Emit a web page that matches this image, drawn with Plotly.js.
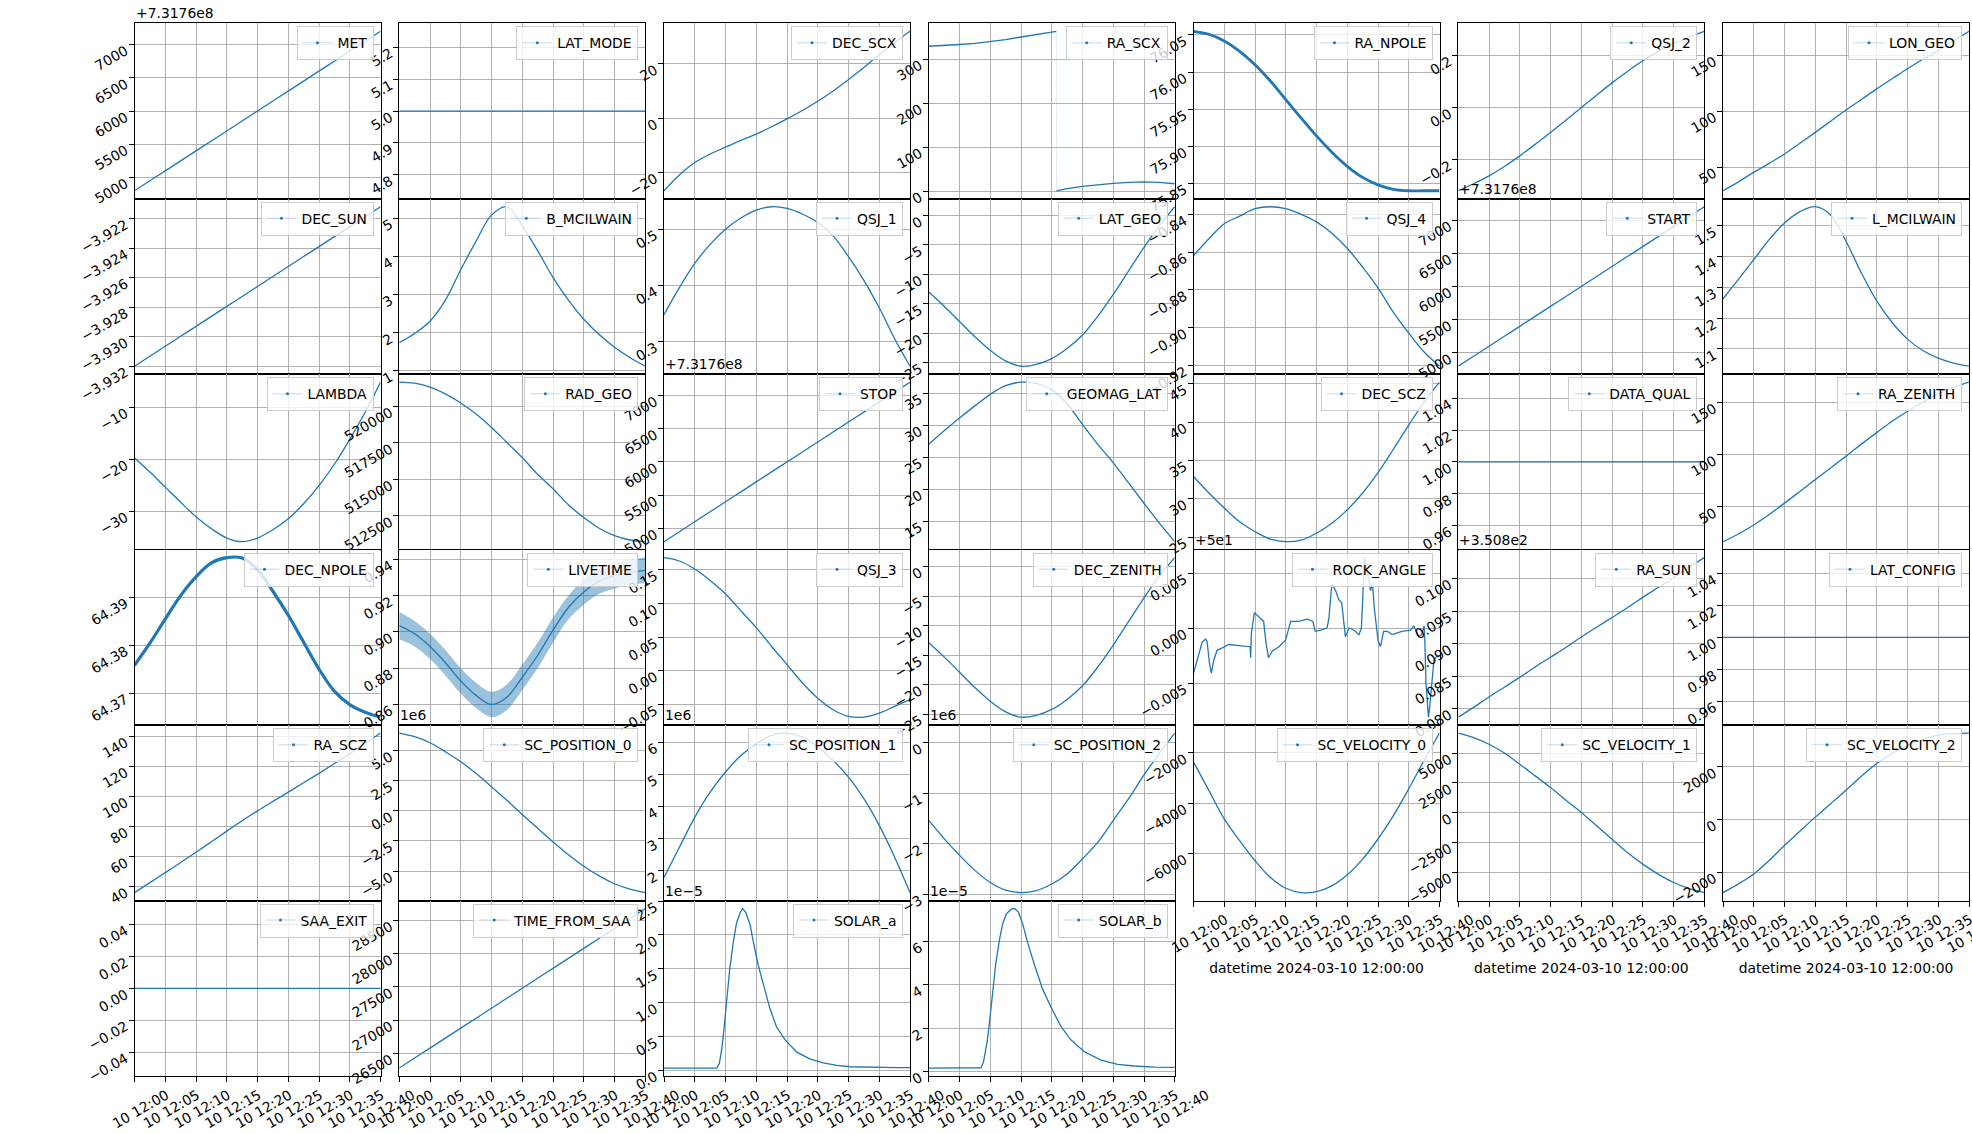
<!DOCTYPE html>
<html>
<head>
<meta charset="utf-8">
<script src="https://cdn.plot.ly/plotly-3.0.1.min.js"></script>
<style>html,body{margin:0;padding:0;background:#fff;}#chart{width:1972px;height:1134px;}</style>
</head>
<body>
<div id="chart"></div>
<script>
// ---------------- DATA ----------------
const DAY = '2024-03-10 ';
const T17 = ['12:00:00','12:02:30','12:05:00','12:07:30','12:10:00','12:12:30','12:15:00','12:17:30','12:20:00','12:22:30','12:25:00','12:27:30','12:30:00','12:32:30','12:35:00','12:37:30','12:40:00'];
const XTICK_TIMES = ['12:00:00','12:05:00','12:10:00','12:15:00','12:20:00','12:25:00','12:30:00','12:35:00','12:40:00'];
const XTICK_LABELS = ['10 12:00','10 12:05','10 12:10','10 12:15','10 12:20','10 12:25','10 12:30','10 12:35','10 12:40'];
const X_TITLE = 'datetime 2024-03-10 12:00:00';

const MET = [731764800,731764950,731765100,731765250,731765400,731765550,731765700,731765850,731766000,731766150,731766300,731766450,731766600,731766750,731766900,731767050,731767200];
const LAT_MODE = [5,5,5,5,5,5,5,5,5,5,5,5,5,5,5,5,5];
const DEC_SCX = [-26.8,-21.0,-16.4,-13.3,-10.7,-8.2,-5.9,-3.2,-0.3,2.8,6.2,10.0,14.2,18.6,23.4,27.8,32.0];
const RA_SCX_T = ['12:00:00','12:02:30','12:05:00','12:07:30','12:10:00','12:12:30','12:15:00','12:17:30','12:20:00','12:20:45','12:20:45','12:20:46','12:22:30','12:25:00','12:27:30','12:30:00','12:32:30','12:35:00','12:37:30','12:40:00'];
const RA_SCX = [329,330.5,333,335.5,339,344,350,356,361.5,363,null,1,6,11,15,18,20,21,20,17];
const RA_NPOLE = [76.055,76.051,76.042,76.028,76.010,75.988,75.963,75.938,75.914,75.892,75.873,75.858,75.848,75.842,75.840,75.840,75.840];
const QSJ_2 = [-0.319,-0.292,-0.262,-0.226,-0.185,-0.141,-0.095,-0.048,0.0,0.048,0.095,0.139,0.180,0.215,0.245,0.271,0.293];
const LON_GEO = [28.7,36.7,45.2,53.3,61.7,71.2,81.0,91.0,101.0,110.5,120.0,129.0,138.0,146.5,154.5,163.0,171.6];
const DEC_SUN = [-3.93200,-3.931325,-3.93065,-3.929975,-3.92930,-3.928625,-3.92795,-3.927275,-3.92660,-3.925925,-3.92525,-3.924575,-3.92390,-3.923225,-3.92255,-3.921875,-3.92120];
const B_MCILWAIN = [1.74,1.98,2.30,2.85,3.65,4.40,5.08,5.30,4.80,4.15,3.45,2.85,2.35,1.95,1.62,1.35,1.12];
const QSJ_1 = [0.348,0.396,0.439,0.473,0.500,0.520,0.534,0.540,0.537,0.527,0.512,0.488,0.451,0.409,0.360,0.305,0.256];
const LAT_GEO = [-13.0,-15.4,-18.0,-20.6,-22.9,-24.7,-25.6,-25.3,-24.3,-22.6,-20.3,-17.1,-13.4,-9.4,-5.4,-1.7,1.5];
const QSJ_4 = [-0.862,-0.853,-0.845,-0.841,-0.837,-0.836,-0.837,-0.840,-0.844,-0.850,-0.858,-0.868,-0.879,-0.892,-0.903,-0.913,-0.9205];
const START = [731764800,731764950,731765100,731765250,731765400,731765550,731765700,731765850,731766000,731766150,731766300,731766450,731766600,731766750,731766900,731767050,731767200];
const L_MCILWAIN = [1.263,1.326,1.390,1.455,1.509,1.546,1.562,1.535,1.450,1.347,1.256,1.186,1.132,1.095,1.070,1.054,1.044];
const LAMBDA = [-19.8,-22.5,-25.4,-28.3,-31.1,-33.4,-35.2,-35.9,-35.2,-33.6,-31.5,-28.6,-25.1,-21.0,-16.2,-11.0,-5.2];
const RAD_GEO = [521651,521583,521307,520849,520229,519472,518555,517523,516491,515344,514358,513257,512385,511651,511147,510849,510734];
const STOP = [731764800,731764950,731765100,731765250,731765400,731765550,731765700,731765850,731766000,731766150,731766300,731766450,731766600,731766750,731766900,731767050,731767200];
const GEOMAG_LAT = [27.0,29.1,31.1,33.0,34.8,36.15,36.7,36.5,35.5,33.3,30.1,27.0,24.1,20.97,17.8,14.7,11.8];
const DEC_SCZ = [32.9,30.75,28.8,27.0,25.7,24.74,24.4,24.6,25.5,26.8,28.55,30.75,33.4,36.45,39.6,42.6,45.2];
const DATA_QUAL = [1,1,1,1,1,1,1,1,1,1,1,1,1,1,1,1,1];
const RA_ZENITH = [16.6,24.0,32.6,42.6,53.5,64.7,76.0,87.2,98.5,110.0,121.0,131.8,141.5,150.3,158.0,164.2,169.3];
const DEC_NPOLE = [64.3758,64.3804,64.3854,64.3903,64.3942,64.3971,64.3982,64.3981,64.3957,64.3912,64.3862,64.3806,64.3750,64.3704,64.3676,64.3660,64.3650];
const LIVETIME = [0.9035,0.899,0.892,0.883,0.873,0.865,0.860,0.864,0.875,0.887,0.901,0.9135,0.922,0.928,0.931,0.933,0.934];
const LIVETIME_HI = [0.911,0.906,0.899,0.890,0.880,0.872,0.867,0.871,0.882,0.894,0.908,0.920,0.929,0.935,0.938,0.940,0.941];
const LIVETIME_LO = [0.896,0.892,0.885,0.876,0.866,0.858,0.853,0.857,0.868,0.880,0.894,0.907,0.915,0.921,0.924,0.926,0.927];
const QSJ_3 = [0.168,0.163,0.151,0.134,0.114,0.089,0.064,0.036,0.009,-0.018,-0.041,-0.058,-0.068,-0.069,-0.063,-0.053,-0.043];
const DEC_ZENITH = [-12.9,-15.3,-17.9,-20.5,-22.8,-24.6,-25.5,-25.2,-24.2,-22.5,-20.2,-17.0,-13.3,-9.3,-5.3,-1.6,1.5];
const ROCK_ANGLE_T = ['12:00:00','12:00:36','12:01:24','12:01:57','12:02:12','12:02:36','12:02:54','12:03:18','12:03:51','12:04:42','12:05:42','12:07:24','12:08:42','12:09:12','12:09:18','12:09:24','12:09:54','12:10:24','12:10:54','12:11:24','12:11:48','12:12:12','12:12:48','12:13:54','12:14:58','12:15:30','12:15:48','12:17:06','12:18:30','12:19:24','12:19:48','12:20:42','12:21:42','12:22:00','12:22:30','12:23:06','12:23:36','12:24:06','12:24:30','12:24:42','12:25:18','12:26:06','12:26:54','12:27:18','12:27:48','12:28:18','12:28:48','12:29:06','12:29:24','12:30:00','12:30:24','12:30:54','12:31:30','12:32:18','12:33:54','12:35:18','12:35:48','12:36:36','12:37:06','12:37:30','12:37:36','12:37:48','12:38:12','12:38:24','12:38:42','12:39:06','12:39:30','12:40:00'];
const ROCK_ANGLE = [49.99588,49.9971,49.9987,49.9990,49.9988,49.9968,49.9959,49.9971,49.9980,49.9982,49.9985,49.9984,49.9983,49.9983,49.9973,49.9995,50.0014,50.0011,50.0008,50.0006,49.9986,49.9973,49.9979,49.9983,49.9989,50.0000,50.0006,50.0006,50.0008,50.0006,49.9997,49.9998,50.0000,50.0008,50.0040,50.0034,50.0026,50.0023,50.0002,49.9992,50.0000,49.9998,49.9994,50.0000,50.0064,50.0050,50.0034,50.0041,50.0018,49.9989,49.9983,49.9997,49.9997,49.9994,49.9997,49.9998,50.0002,49.9992,49.9994,50.0002,49.9991,49.9950,49.9919,49.9928,49.9944,49.9971,49.9974,49.9974];
const RA_SUN = [350.8787,350.8802,350.8818,350.8833,350.8848,350.8864,350.8879,350.8894,350.8910,350.8925,350.8940,350.8955,350.8971,350.8986,350.9001,350.9017,350.9032];
const LAT_CONFIG = [1,1,1,1,1,1,1,1,1,1,1,1,1,1,1,1,1];
const RA_SCZ = [36.0,42.6,49.3,56.0,62.8,69.8,76.9,83.8,90.4,96.7,102.9,109.1,115.4,121.9,128.5,135.3,142.2];
const SC_POSITION_0 = [6.45e6,6.15e6,5.65e6,4.90e6,4.07e6,3.10e6,2.00e6,0.87e6,-0.30e6,-1.45e6,-2.58e6,-3.65e6,-4.60e6,-5.40e6,-6.05e6,-6.50e6,-6.78e6];
const SC_POSITION_1 = [1.79e6,2.73e6,3.66e6,4.44e6,5.07e6,5.58e6,5.95e6,6.21e6,6.28e6,6.16e6,5.85e6,5.43e6,4.91e6,4.24e6,3.41e6,2.42e6,1.32e6];
const SC_POSITION_2 = [-1.54e6,-1.90e6,-2.23e6,-2.53e6,-2.77e6,-2.92e6,-2.97e6,-2.93e6,-2.80e6,-2.60e6,-2.30e6,-1.97e6,-1.54e6,-1.11e6,-0.64e6,-0.21e6,0.19e6];
const SC_VELOCITY_0 = [-2360,-3493,-4627,-5493,-6293,-6960,-7387,-7560,-7520,-7293,-6853,-6227,-5427,-4493,-3427,-2293,-1210];
const SC_VELOCITY_1 = [6680,6300,5740,5000,4060,3080,2100,1040,0,-1120,-2240,-3360,-4340,-5180,-5880,-6380,-6730];
const SC_VELOCITY_2 = [-2780,-2450,-2070,-1560,-990,-450,89,597,1111,1644,2127,2508,2825,3040,3206,3263,3285];
const SAA_EXIT = [0,0,0,0,0,0,0,0,0,0,0,0,0,0,0,0,0];
const TIME_FROM_SAA = [26280,26430,26580,26730,26880,27030,27180,27330,27480,27630,27780,27930,28080,28230,28380,28530,28680];
const SOLAR_A_T = ['12:00:00','12:04:00','12:08:34','12:09:00','12:09:24','12:09:46','12:10:12','12:10:42','12:11:18','12:11:48','12:12:24','12:12:48','12:13:18','12:14:00','12:14:30','12:15:18','12:16:12','12:17:12','12:18:18','12:19:42','12:21:36','12:23:42','12:25:54','12:28:06','12:30:12','12:33:30','12:37:48','12:40:00'];
const SOLAR_a = [0.035e-5,0.036e-5,0.035e-5,0.10e-5,0.32e-5,0.62e-5,1.01e-5,1.51e-5,1.91e-5,2.18e-5,2.33e-5,2.39e-5,2.33e-5,2.15e-5,1.91e-5,1.56e-5,1.26e-5,0.92e-5,0.64e-5,0.45e-5,0.27e-5,0.17e-5,0.11e-5,0.074e-5,0.054e-5,0.045e-5,0.040e-5,0.040e-5];
const SOLAR_B_T = ['12:00:00','12:04:00','12:08:30','12:08:54','12:09:30','12:09:54','12:10:24','12:10:54','12:11:30','12:12:00','12:12:36','12:13:24','12:14:00','12:14:36','12:15:18','12:16:06','12:17:12','12:18:30','12:19:54','12:21:30','12:23:06','12:25:18','12:28:00','12:30:42','12:33:24','12:36:42','12:40:00'];
const SOLAR_b = [0.157e-5,0.16e-5,0.17e-5,0.44e-5,1.38e-5,2.32e-5,3.73e-5,4.98e-5,6.08e-5,6.79e-5,7.26e-5,7.49e-5,7.52e-5,7.34e-5,6.79e-5,5.92e-5,4.91e-5,3.81e-5,2.95e-5,2.08e-5,1.46e-5,0.91e-5,0.52e-5,0.33e-5,0.25e-5,0.20e-5,0.19e-5];

// panel list, row-major (7 columns): name, times, values
const PANELS = [
  ['MET',T17,MET],['LAT_MODE',T17,LAT_MODE],['DEC_SCX',T17,DEC_SCX],['RA_SCX',RA_SCX_T,RA_SCX],['RA_NPOLE',T17,RA_NPOLE],['QSJ_2',T17,QSJ_2],['LON_GEO',T17,LON_GEO],
  ['DEC_SUN',T17,DEC_SUN],['B_MCILWAIN',T17,B_MCILWAIN],['QSJ_1',T17,QSJ_1],['LAT_GEO',T17,LAT_GEO],['QSJ_4',T17,QSJ_4],['START',T17,START],['L_MCILWAIN',T17,L_MCILWAIN],
  ['LAMBDA',T17,LAMBDA],['RAD_GEO',T17,RAD_GEO],['STOP',T17,STOP],['GEOMAG_LAT',T17,GEOMAG_LAT],['DEC_SCZ',T17,DEC_SCZ],['DATA_QUAL',T17,DATA_QUAL],['RA_ZENITH',T17,RA_ZENITH],
  ['DEC_NPOLE',T17,DEC_NPOLE],['LIVETIME',T17,LIVETIME],['QSJ_3',T17,QSJ_3],['DEC_ZENITH',T17,DEC_ZENITH],['ROCK_ANGLE',ROCK_ANGLE_T,ROCK_ANGLE],['RA_SUN',T17,RA_SUN],['LAT_CONFIG',T17,LAT_CONFIG],
  ['RA_SCZ',T17,RA_SCZ],['SC_POSITION_0',T17,SC_POSITION_0],['SC_POSITION_1',T17,SC_POSITION_1],['SC_POSITION_2',T17,SC_POSITION_2],['SC_VELOCITY_0',T17,SC_VELOCITY_0],['SC_VELOCITY_1',T17,SC_VELOCITY_1],['SC_VELOCITY_2',T17,SC_VELOCITY_2],
  ['SAA_EXIT',T17,SAA_EXIT],['TIME_FROM_SAA',T17,TIME_FROM_SAA],['SOLAR_a',SOLAR_A_T,SOLAR_a],['SOLAR_b',SOLAR_B_T,SOLAR_b]
];
// y tick step, decimals, offset, scale (tick label formatting)
const YTICK = {
  MET:[500,0,731760000,1], LAT_MODE:[0.1,1,0,1], DEC_SCX:[20,0,0,1], RA_SCX:[100,0,0,1], RA_NPOLE:[0.05,2,0,1], QSJ_2:[0.2,1,0,1], LON_GEO:[50,0,0,1],
  DEC_SUN:[0.002,3,0,1], B_MCILWAIN:[1,0,0,1], QSJ_1:[0.1,1,0,1], LAT_GEO:[5,0,0,1], QSJ_4:[0.02,2,0,1], START:[500,0,731760000,1], L_MCILWAIN:[0.1,1,0,1],
  LAMBDA:[10,0,0,1], RAD_GEO:[2500,0,0,1], STOP:[500,0,731760000,1], GEOMAG_LAT:[5,0,0,1], DEC_SCZ:[5,0,0,1], DATA_QUAL:[0.02,2,0,1], RA_ZENITH:[50,0,0,1],
  DEC_NPOLE:[0.01,2,0,1], LIVETIME:[0.02,2,0,1], QSJ_3:[0.05,2,0,1], DEC_ZENITH:[5,0,0,1], ROCK_ANGLE:[0.005,3,50,1], RA_SUN:[0.005,3,350.8,1], LAT_CONFIG:[0.02,2,0,1],
  RA_SCZ:[20,0,0,1], SC_POSITION_0:[2.5e6,1,0,1e6], SC_POSITION_1:[1e6,0,0,1e6], SC_POSITION_2:[1e6,0,0,1e6], SC_VELOCITY_0:[2000,0,0,1], SC_VELOCITY_1:[2500,0,0,1], SC_VELOCITY_2:[2000,0,0,1],
  SAA_EXIT:[0.02,2,0,1], TIME_FROM_SAA:[500,0,0,1], SOLAR_a:[0.5e-5,1,0,1e-5], SOLAR_b:[2e-5,0,0,1e-5]
};
const OFFSET_TEXT = {MET:'+7.3176e8', START:'+7.3176e8', STOP:'+7.3176e8', ROCK_ANGLE:'+5e1', RA_SUN:'+3.508e2',
  SC_POSITION_0:'1e6', SC_POSITION_1:'1e6', SC_POSITION_2:'1e6', SOLAR_a:'1e\u22125', SOLAR_b:'1e\u22125'};
const NOISY = {RA_NPOLE:2.8, DEC_NPOLE:3.2};
const LINEAR_SHAPE = {RA_SCX:1, ROCK_ANGLE:1, SOLAR_a:1, SOLAR_b:1};

// ---------------- LAYOUT / TRACES ----------------
const W = 1972, H = 1134;
const COL0 = 134.5, COLSTEP = 264.75, COLW = 246;
const ROW0 = 23.3, ROWH = 175.45;
const FONT = 'DejaVu Sans';
const FS = 13.9;
const BLUE = '#1f77b4';
const tfont = {family: FONT, size: FS, color: '#000'};

const traces = [];
const layout = {
  width: W, height: H, margin: {l:0, r:0, t:0, b:0},
  paper_bgcolor: '#fff', plot_bgcolor: '#fff',
  font: tfont, annotations: [], showlegend: true
};

function fmt(v, dec) {
  let s = v.toFixed(dec);
  if (parseFloat(s) === 0) s = (0).toFixed(dec);
  return s.replace('-', '\u2212');
}

const nP = PANELS.length;
PANELS.forEach((p, i) => {
  const [name, times, vals] = p;
  const r = Math.floor(i / 7), c = i % 7, k = i + 1, sfx = k === 1 ? '' : String(k);
  const x0 = COL0 + c * COLSTEP, x1 = x0 + COLW;
  const yt = ROW0 + r * ROWH, yb = yt + ROWH;
  const dx = [x0 / W, x1 / W], dy = [1 - yb / H, 1 - yt / H];
  const bottom = (i + 7) >= nP;
  const xs = times.map(t => DAY + t);

  // y range like matplotlib autoscale with 5% margins
  let all = vals.filter(v => v !== null);
  if (name === 'LIVETIME') all = all.concat(LIVETIME_HI, LIVETIME_LO);
  let lo = Math.min(...all), hi = Math.max(...all);
  if (hi - lo === 0) {
    const e = lo === 0 ? 0.05 : Math.abs(lo) * 0.05;
    lo -= e; hi += e;
  }
  const m = (hi - lo) * 0.05; lo -= m; hi += m;

  const [step, dec, off, scale] = YTICK[name];
  const tv = [], tt = [];
  for (let q = Math.ceil((lo - off) / step - 1e-9); q <= Math.floor((hi - off) / step + 1e-9); q++) {
    tv.push(off + q * step);
    tt.push(fmt(q * step / scale, dec));
  }

  if (name === 'LIVETIME') {
    traces.push({type:'scatter', mode:'lines', x:xs, y:LIVETIME_LO, xaxis:'x'+sfx, yaxis:'y'+sfx,
      line:{width:0, color:BLUE, shape:'spline'}, showlegend:false, hoverinfo:'skip'});
    traces.push({type:'scatter', mode:'lines', x:xs, y:LIVETIME_HI, xaxis:'x'+sfx, yaxis:'y'+sfx, fill:'tonexty',
      fillcolor:'rgba(31,119,180,0.45)', line:{width:0, color:BLUE, shape:'spline'}, showlegend:false, hoverinfo:'skip'});
  }
  if (name === 'RA_SCX') {
    // faint connecting segment across the 360 -> 0 wrap
    traces.push({type:'scatter', mode:'lines', x:[xs[9], xs[11]], y:[vals[9], vals[11]], xaxis:'x'+sfx, yaxis:'y'+sfx,
      line:{color:'rgba(31,119,180,0.15)', width:1}, showlegend:false, hoverinfo:'skip'});
  }
  traces.push({type:'scatter', mode:'lines', x:xs, y:vals, xaxis:'x'+sfx, yaxis:'y'+sfx,
    line:{color:BLUE, width: NOISY[name] || 1.3, shape: LINEAR_SHAPE[name] ? 'linear' : 'spline'},
    connectgaps:false, showlegend:false, hoverinfo:'skip'});
  // legend entry (faint line with dot, as in the reference legend)
  traces.push({type:'scatter', mode:'lines+markers', x:[null], y:[null], xaxis:'x'+sfx, yaxis:'y'+sfx,
    name: name, legend: 'legend' + sfx, showlegend: true,
    line:{color:'rgba(31,119,180,0.18)', width:1.5}, marker:{color:BLUE, size:3}});

  layout['legend' + sfx] = {
    x: dx[1] - 7 / W, y: dy[1] - 3 / H, xanchor:'right', yanchor:'top', xref:'paper', yref:'paper',
    bgcolor:'rgba(255,255,255,0.8)', bordercolor:'#cccccc', borderwidth:1, font: tfont
  };

  layout['xaxis' + sfx] = {
    domain: dx, anchor: 'y' + sfx, type: 'date',
    range: [DAY + '12:00:00', DAY + '12:40:00'],
    tickmode: 'array', tickvals: XTICK_TIMES.map(t => DAY + t), ticktext: XTICK_LABELS,
    showticklabels: bottom, ticks: bottom ? 'outside' : '', ticklen: 5, tickwidth: 1, tickcolor: '#000',
    tickangle: -30, ticklabelshift: 32, ticklabeloverflow: 'allow', tickfont: tfont,
    showgrid: true, gridcolor: '#b0b0b0', gridwidth: 1,
    showline: true, mirror: true, linecolor: '#000', linewidth: 1, zeroline: false, fixedrange: true,
    title: (bottom && r === 4) ? {text: X_TITLE, font: tfont, standoff: 8} : {text: ''}
  };
  layout['yaxis' + sfx] = {
    domain: dy, anchor: 'x' + sfx, range: [lo, hi],
    tickmode: 'array', tickvals: tv, ticktext: tt,
    ticks: 'outside', ticklen: 5, tickwidth: 1, tickcolor: '#000', tickangle: -30, ticklabelshift: 5,
    ticklabeloverflow: 'allow', tickfont: tfont,
    showgrid: true, gridcolor: '#b0b0b0', gridwidth: 1,
    showline: true, mirror: true, linecolor: '#000', linewidth: 1, zeroline: false, fixedrange: true
  };

  if (OFFSET_TEXT[name]) {
    layout.annotations.push({xref:'paper', yref:'paper', x: dx[0], y: dy[1], xanchor:'left', yanchor:'bottom',
      text: OFFSET_TEXT[name], showarrow:false, font: tfont, borderpad: 0, yshift: 1});
  }
});

Plotly.newPlot('chart', traces, layout, {displayModeBar:false, staticPlot:true});
</script>
</body>
</html>
